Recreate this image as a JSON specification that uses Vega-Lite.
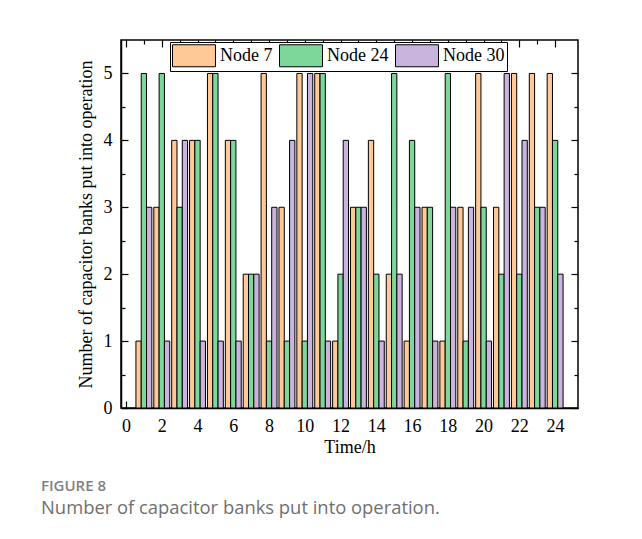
{
  "$schema": "https://vega.github.io/schema/vega-lite/v6.json",
  "width": 457,
  "height": 368,
  "autosize": {"type": "none"},
  "padding": {"left": 121, "top": 40, "right": 64, "bottom": 131},
  "background": "white",
  "title": {
    "text": "FIGURE 8",
    "subtitle": "Number of capacitor banks put into operation.",
    "orient": "bottom",
    "anchor": "start",
    "frame": "group",
    "dx": -80,
    "offset": 23,
    "font": "Open Sans",
    "fontSize": 15,
    "fontWeight": 600,
    "color": "#808080",
    "subtitleFont": "Open Sans",
    "subtitleFontSize": 18.4,
    "subtitleColor": "#707070",
    "subtitlePadding": 5
  },
  "config": {
    "view": {"stroke": "black", "strokeWidth": 1.5},
    "axis": {
      "grid": false,
      "labelFont": "Liberation Serif",
      "labelFontSize": 18,
      "labelColor": "black",
      "titleFont": "Liberation Serif",
      "titleFontSize": 18,
      "titleFontWeight": "normal",
      "titleColor": "black",
      "domainColor": "black",
      "domainWidth": 1.5,
      "tickColor": "black",
      "tickWidth": 1.2
    },
    "legend": {
      "labelFont": "Liberation Serif",
      "labelFontSize": 18,
      "labelColor": "black"
    }
  },
  "data": {
    "values": [
      {"hour": 1, "node": "Node 7", "value": 1}, {"hour": 2, "node": "Node 7", "value": 3}, {"hour": 3, "node": "Node 7", "value": 4}, {"hour": 4, "node": "Node 7", "value": 4},
      {"hour": 5, "node": "Node 7", "value": 5}, {"hour": 6, "node": "Node 7", "value": 4}, {"hour": 7, "node": "Node 7", "value": 2}, {"hour": 8, "node": "Node 7", "value": 5},
      {"hour": 9, "node": "Node 7", "value": 3}, {"hour": 10, "node": "Node 7", "value": 5}, {"hour": 11, "node": "Node 7", "value": 5}, {"hour": 12, "node": "Node 7", "value": 1},
      {"hour": 13, "node": "Node 7", "value": 3}, {"hour": 14, "node": "Node 7", "value": 4}, {"hour": 15, "node": "Node 7", "value": 2}, {"hour": 16, "node": "Node 7", "value": 1},
      {"hour": 17, "node": "Node 7", "value": 3}, {"hour": 18, "node": "Node 7", "value": 1}, {"hour": 19, "node": "Node 7", "value": 3}, {"hour": 20, "node": "Node 7", "value": 5},
      {"hour": 21, "node": "Node 7", "value": 3}, {"hour": 22, "node": "Node 7", "value": 5}, {"hour": 23, "node": "Node 7", "value": 5}, {"hour": 24, "node": "Node 7", "value": 5},
      {"hour": 1, "node": "Node 24", "value": 5}, {"hour": 2, "node": "Node 24", "value": 5}, {"hour": 3, "node": "Node 24", "value": 3}, {"hour": 4, "node": "Node 24", "value": 4},
      {"hour": 5, "node": "Node 24", "value": 5}, {"hour": 6, "node": "Node 24", "value": 4}, {"hour": 7, "node": "Node 24", "value": 2}, {"hour": 8, "node": "Node 24", "value": 1},
      {"hour": 9, "node": "Node 24", "value": 1}, {"hour": 10, "node": "Node 24", "value": 1}, {"hour": 11, "node": "Node 24", "value": 5}, {"hour": 12, "node": "Node 24", "value": 2},
      {"hour": 13, "node": "Node 24", "value": 3}, {"hour": 14, "node": "Node 24", "value": 2}, {"hour": 15, "node": "Node 24", "value": 5}, {"hour": 16, "node": "Node 24", "value": 4},
      {"hour": 17, "node": "Node 24", "value": 3}, {"hour": 18, "node": "Node 24", "value": 5}, {"hour": 19, "node": "Node 24", "value": 1}, {"hour": 20, "node": "Node 24", "value": 3},
      {"hour": 21, "node": "Node 24", "value": 2}, {"hour": 22, "node": "Node 24", "value": 2}, {"hour": 23, "node": "Node 24", "value": 3}, {"hour": 24, "node": "Node 24", "value": 4},
      {"hour": 1, "node": "Node 30", "value": 3}, {"hour": 2, "node": "Node 30", "value": 1}, {"hour": 3, "node": "Node 30", "value": 4}, {"hour": 4, "node": "Node 30", "value": 1},
      {"hour": 5, "node": "Node 30", "value": 1}, {"hour": 6, "node": "Node 30", "value": 1}, {"hour": 7, "node": "Node 30", "value": 2}, {"hour": 8, "node": "Node 30", "value": 3},
      {"hour": 9, "node": "Node 30", "value": 4}, {"hour": 10, "node": "Node 30", "value": 5}, {"hour": 11, "node": "Node 30", "value": 1}, {"hour": 12, "node": "Node 30", "value": 4},
      {"hour": 13, "node": "Node 30", "value": 3}, {"hour": 14, "node": "Node 30", "value": 1}, {"hour": 15, "node": "Node 30", "value": 2}, {"hour": 16, "node": "Node 30", "value": 3},
      {"hour": 17, "node": "Node 30", "value": 1}, {"hour": 18, "node": "Node 30", "value": 3}, {"hour": 19, "node": "Node 30", "value": 3}, {"hour": 20, "node": "Node 30", "value": 1},
      {"hour": 21, "node": "Node 30", "value": 5}, {"hour": 22, "node": "Node 30", "value": 4}, {"hour": 23, "node": "Node 30", "value": 3}, {"hour": 24, "node": "Node 30", "value": 2}
    ]
  },
  "resolve": {"axis": {"x": "independent", "y": "independent"}},
  "layer": [
    {
      "transform": [{"filter": "datum.node === 'Node 7'"}],
      "mark": {"type": "bar", "size": 5.3, "xOffset": -5.3, "stroke": "black", "strokeWidth": 1},
      "encoding": {
        "x": {
          "field": "hour", "type": "quantitative",
          "scale": {"domain": [0, 25], "nice": false},
          "axis": {
            "title": "Time/h",
            "orient": "bottom",
            "values": [0,1,2,3,4,5,6,7,8,9,10,11,12,13,14,15,16,17,18,19,20,21,22,23,24],
            "labelExpr": "datum.value % 2 === 0 ? format(datum.value, 'd') : ''",
            "tickSize": {"condition": {"test": "datum.value % 2 === 0", "value": -7}, "value": -4},
            "labelPadding": 16,
            "labelFlush": false,
            "labelOverlap": false,
            "titlePadding": 0
          }
        },
        "y": {
          "field": "value", "type": "quantitative",
          "scale": {"domain": [0, 5.5], "nice": false},
          "axis": {
            "title": "Number of capacitor banks put into operation",
            "orient": "left",
            "values": [0,0.5,1,1.5,2,2.5,3,3.5,4,4.5,5],
            "labelExpr": "datum.value % 1 === 0 ? format(datum.value, 'd') : ''",
            "tickSize": {"condition": {"test": "datum.value % 1 === 0", "value": -7}, "value": -4},
            "labelPadding": 16,
            "labelFlush": false,
            "labelOverlap": false,
            "titlePadding": 8
          }
        },
        "color": {
          "field": "node", "type": "nominal",
          "scale": {"domain": ["Node 7", "Node 24", "Node 30"], "range": ["#FFC896", "#7DD79B", "#C8B4DC"]},
          "legend": {
            "title": null,
            "orient": "none",
            "direction": "horizontal",
            "legendX": 49,
            "legendY": 2,
            "padding": 2,
            "strokeColor": "black",
            "fillColor": "white",
            "symbolType": "M-1,-1H2.909V1H-1Z",
            "symbolSize": 484,
            "symbolStrokeColor": "black",
            "symbolStrokeWidth": 1,
            "symbolOpacity": 1,
            "labelOffset": 25,
            "columnPadding": 4,
            "rowPadding": 0
          }
        }
      }
    },
    {
      "transform": [{"filter": "datum.node === 'Node 24'"}],
      "mark": {"type": "bar", "size": 5.3, "xOffset": 0, "stroke": "black", "strokeWidth": 1},
      "encoding": {
        "x": {
          "field": "hour", "type": "quantitative",
          "scale": {"domain": [0, 25], "nice": false},
          "axis": {
            "title": null,
            "orient": "top",
            "labels": false,
            "domain": false,
            "values": [0,1,2,3,4,5,6,7,8,9,10,11,12,13,14,15,16,17,18,19,20,21,22,23,24],
            "tickSize": {"condition": {"test": "datum.value % 2 === 0", "value": -7}, "value": -4}
          }
        },
        "y": {
          "field": "value", "type": "quantitative",
          "scale": {"domain": [0, 5.5], "nice": false},
          "axis": {
            "title": null,
            "orient": "right",
            "labels": false,
            "domain": false,
            "values": [0,0.5,1,1.5,2,2.5,3,3.5,4,4.5,5],
            "tickSize": {"condition": {"test": "datum.value % 1 === 0", "value": -7}, "value": -4}
          }
        },
        "color": {"field": "node", "type": "nominal"}
      }
    },
    {
      "transform": [{"filter": "datum.node === 'Node 30'"}],
      "mark": {"type": "bar", "size": 5.3, "xOffset": 5.3, "stroke": "black", "strokeWidth": 1},
      "encoding": {
        "x": {"field": "hour", "type": "quantitative", "scale": {"domain": [0, 25], "nice": false}, "axis": null},
        "y": {"field": "value", "type": "quantitative", "scale": {"domain": [0, 5.5], "nice": false}, "axis": null},
        "color": {"field": "node", "type": "nominal"}
      }
    }
  ]
}
